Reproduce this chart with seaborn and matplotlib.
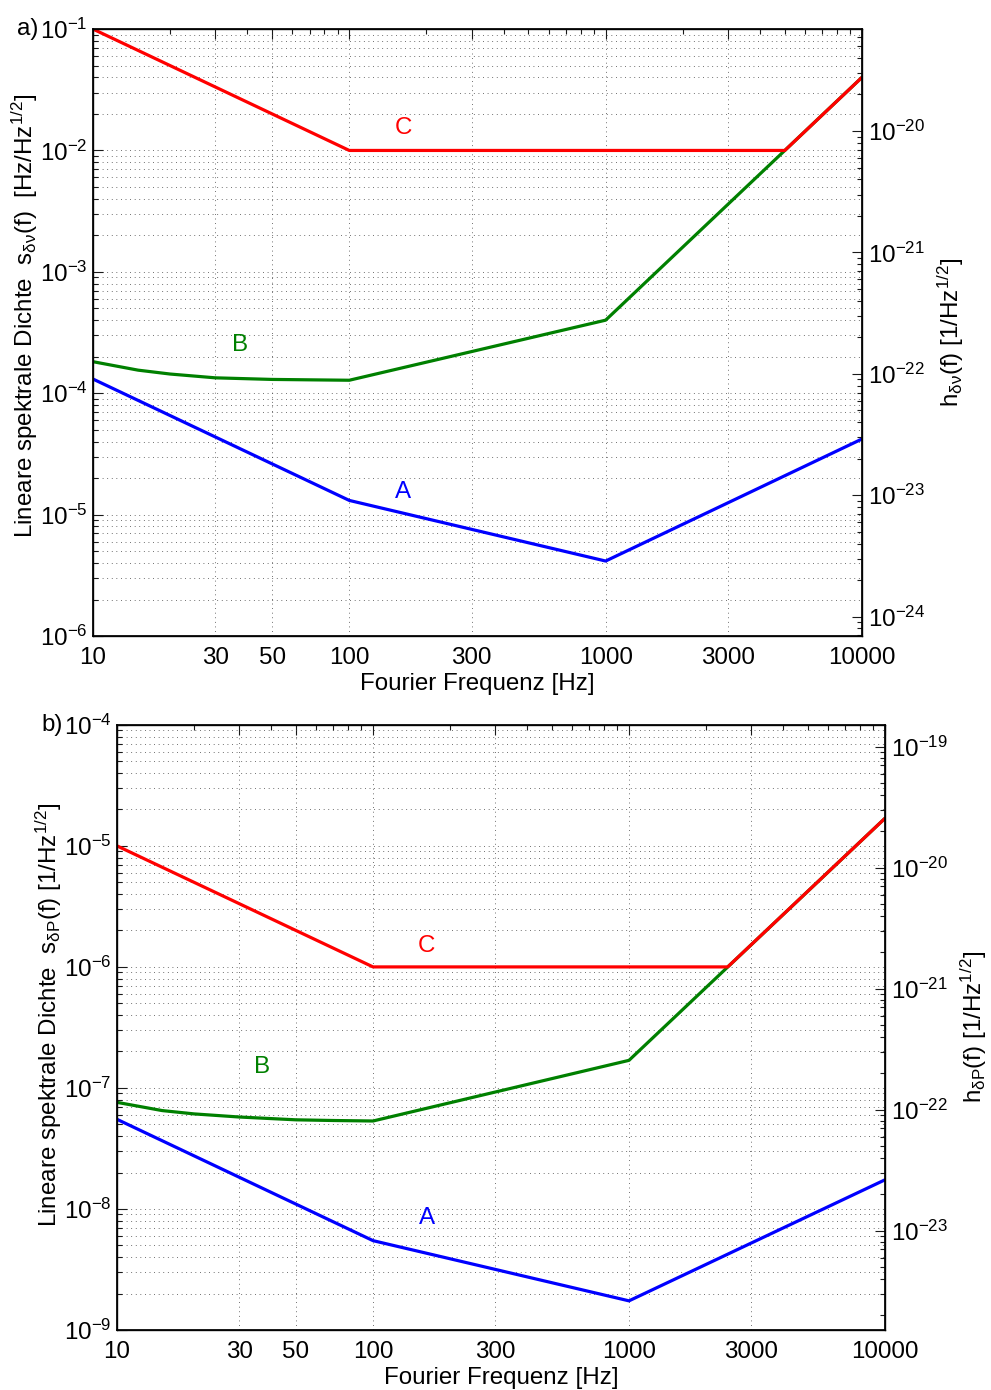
import matplotlib
matplotlib.use("Agg")
import matplotlib.pyplot as plt
import matplotlib.ticker as mticker
import pandas as pd
import seaborn as sns

# frequency axis
FREQ_TICKS = [10, 30, 50, 100, 300, 1000, 3000, 10000]
CURVES = ["A", "B", "C"]
COLORS = {"A": "#0000ff", "B": "#008000", "C": "#ff0000"}

# panel a) frequency noise s_dnu(f) [Hz/Hz^1/2]
A_FREQ = [10, 100, 1000, 10000]
A_TOP = [1.31e-4, 1.31e-5, 4.15e-6, 4.2e-5]
B_FREQ = [10, 15, 20, 30, 50, 70, 100, 1000, 10000]
B_TOP = [1.82e-4, 1.55e-4, 1.44e-4, 1.34e-4, 1.30e-4, 1.29e-4, 1.28e-4, 4.0e-4, 4.0e-2]
C_FREQ_TOP = [10, 100, 5000, 10000]
C_TOP = [1e-1, 1e-2, 1e-2, 4.0e-2]

# panel b) power noise s_dP(f) [1/Hz^1/2]
A_BOT = [5.5e-8, 5.47e-9, 1.74e-9, 1.74e-8]
B_BOT = [7.6e-8, 6.5e-8, 6.1e-8, 5.75e-8, 5.45e-8, 5.38e-8, 5.33e-8, 1.69e-7, 1.69e-5]
C_FREQ_BOT = [10, 100, 2430, 10000]
C_BOT = [1e-5, 1e-6, 1e-6, 1.69e-5]

# curve letters (frequency, value)
LABELS_TOP = {"A": (162, 1.53e-5), "B": (37.5, 2.5e-4), "C": (162, 1.53e-2)}
LABELS_BOT = {"A": (162, 8.4e-9), "B": (37, 1.49e-7), "C": (162, 1.49e-6)}

sns.set_theme(style="white")
plt.rcParams["font.family"] = ["Liberation Sans", "DejaVu Sans"]
plt.rcParams["mathtext.fontset"] = "custom"
plt.rcParams["mathtext.rm"] = "Liberation Sans"
plt.rcParams["mathtext.it"] = "Liberation Sans:italic"
plt.rcParams["mathtext.default"] = "regular"
for key in ["text.color", "axes.labelcolor", "xtick.color", "ytick.color", "axes.edgecolor"]:
    plt.rcParams[key] = "black"
FS = 17.4

GRID = dict(color="0.25", linestyle=(0, (1, 4.5)), linewidth=0.6)


def curve_frame(freq_sets, value_sets):
    parts = []
    for name, f, v in zip(CURVES, freq_sets, value_sets):
        parts.append(pd.DataFrame({"f": f, "s": v, "curve": name}))
    return pd.concat(parts, ignore_index=True)


def draw_panel(ax, df, ylim, k, ylabel, rlabel, tag, letters, label_y):
    ax.set_xscale("log")
    ax.set_yscale("log")
    sns.lineplot(data=df, x="f", y="s", hue="curve", hue_order=CURVES, palette=COLORS,
                 estimator=None, sort=False, linewidth=2.3, legend=False, ax=ax)
    ax.set_xlim(10, 10000)
    ax.set_ylim(*ylim)
    ax.xaxis.set_major_locator(mticker.FixedLocator(FREQ_TICKS))
    ax.xaxis.set_major_formatter(mticker.FixedFormatter([str(t) for t in FREQ_TICKS]))
    ax.xaxis.set_minor_locator(mticker.LogLocator(base=10, subs=range(2, 10), numticks=20))
    ax.xaxis.set_minor_formatter(mticker.NullFormatter())
    ax.yaxis.set_major_locator(mticker.LogLocator(base=10, numticks=20))
    ax.yaxis.set_minor_locator(mticker.LogLocator(base=10, subs=range(2, 10), numticks=20))
    ax.yaxis.set_minor_formatter(mticker.NullFormatter())
    ax.grid(True, which="major", axis="both", **GRID)
    ax.grid(True, which="minor", axis="y", **GRID)
    ax.tick_params(which="both", direction="in", top=True, right=False, labelsize=FS,
                   color="k", width=0.8)
    ax.tick_params(which="major", length=7)
    ax.tick_params(which="minor", length=3.5)
    ax.tick_params(axis="x", pad=8)
    ax.tick_params(axis="y", pad=4)
    for s in ax.spines.values():
        s.set_color("k")
        s.set_linewidth(1.0)
    ax.set_xlabel("Fourier Frequenz [Hz]", fontsize=FS, labelpad=3)
    ax.set_ylabel(ylabel, fontsize=FS, labelpad=0)
    ax.yaxis.label.set_y(label_y)
    for name, (fx, fy) in letters.items():
        ax.text(fx, fy, name, color=COLORS[name], fontsize=FS, ha="center", va="center")
    ax.text(-0.071, 1.0, tag, transform=ax.transAxes, fontsize=FS, ha="right", va="center")

    ax2 = ax.twinx()
    ax2.set_yscale("log")
    ax2.set_ylim(ylim[0] * k, ylim[1] * k)
    ax2.yaxis.set_major_locator(mticker.LogLocator(base=10, numticks=20))
    ax2.yaxis.set_minor_locator(mticker.LogLocator(base=10, subs=range(2, 10), numticks=20))
    ax2.yaxis.set_minor_formatter(mticker.NullFormatter())
    ax2.tick_params(which="both", direction="in", labelsize=FS, color="k", width=0.8, pad=4)
    ax2.tick_params(which="major", length=7)
    ax2.tick_params(which="minor", length=3.5)
    ax2.grid(False)
    ax2.set_ylabel(rlabel, fontsize=FS, labelpad=8)
    return ax2


fig = plt.figure(figsize=(9.91, 13.90), dpi=100)
ax_top = fig.add_axes([0.0938, 0.5424, 0.776, 0.4367])
ax_bot = fig.add_axes([0.1181, 0.0432, 0.7749, 0.4353])

top_df = curve_frame([A_FREQ, B_FREQ, C_FREQ_TOP], [A_TOP, B_TOP, C_TOP])
bot_df = curve_frame([A_FREQ, B_FREQ, C_FREQ_BOT], [A_BOT, B_BOT, C_BOT])

draw_panel(ax_top, top_df, (1e-6, 1e-1), 10 ** -18.16,
           r"Lineare spektrale Dichte  s$_{\delta\nu}$(f)  [Hz/Hz$^{1/2}$]",
           r"h$_{\delta\nu}$(f) [1/Hz$^{1/2}$]", "a)", LABELS_TOP, 0.527)
draw_panel(ax_bot, bot_df, (1e-9, 1e-4), 10 ** -14.82,
           r"Lineare spektrale Dichte  s$_{\delta P}$(f) [1/Hz$^{1/2}$]",
           r"h$_{\delta P}$(f) [1/Hz$^{1/2}$]", "b)", LABELS_BOT, 0.52)

fig.savefig("out.png", dpi=100)
